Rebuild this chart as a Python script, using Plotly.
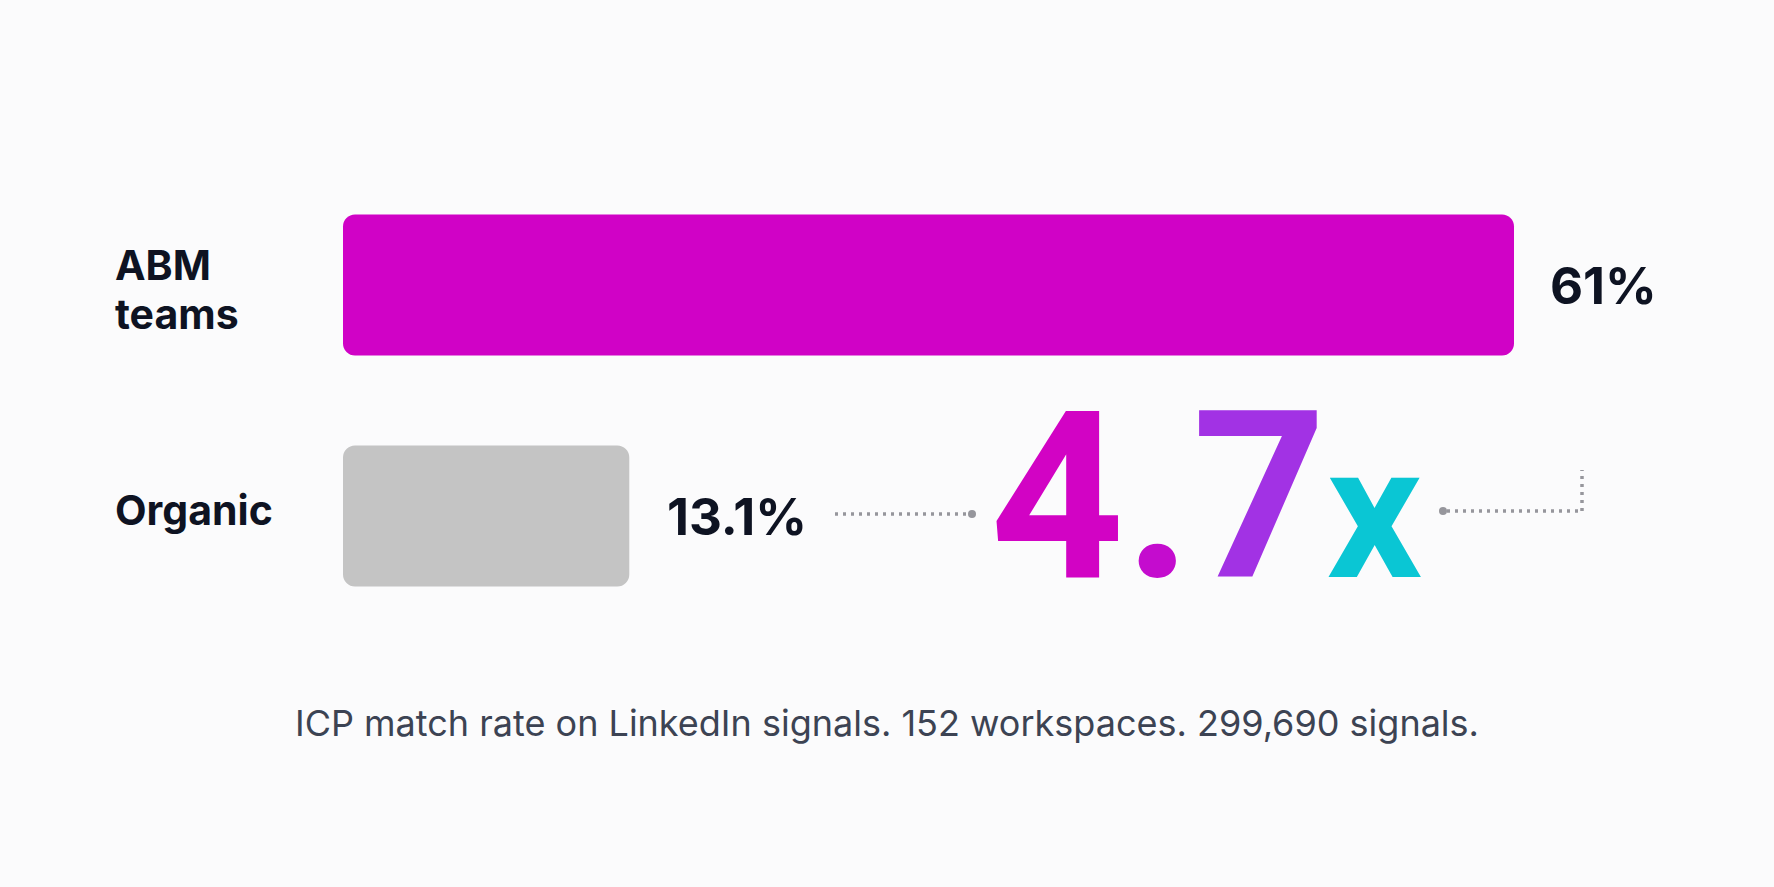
import plotly.graph_objects as go

# ---------------- data ----------------
categories = ["ABM teams", "Organic"]
values = [61.0, 13.1]
value_labels = ["61%", "13.1%"]
caption = "ICP match rate on LinkedIn signals. 152 workspaces. 299,690 signals."

# ---------------- layout / style constants ----------------
W, H = 1774, 887
BG = "#FBFBFC"
INK = "#0E1322"
BAR_COLORS = ["#D002C6", "#C4C4C4"]
BAR_BASE = -2.4            # small stub so short bars stay readable
BAR_LEFT_PX, BAR_RIGHT_PX = 343, 1514
ROW_PX = [285, 516]
BAR_WIDTH = 0.61
LABEL_X_PX = 113
LABEL_FONT = 41
LINE_PITCH = 49
LABEL_SHIFT = [-4, 6]
VALUE_FONT = 51
VALUE_GAP = [34, 36]

scale = (BAR_RIGHT_PX - BAR_LEFT_PX) / (max(values) - BAR_BASE)
x_lo = BAR_BASE - BAR_LEFT_PX / scale
x_hi = x_lo + W / scale
pitch = ROW_PX[1] - ROW_PX[0]
y_top = -ROW_PX[0] / pitch
y_bot = y_top + H / pitch


def px(x):
    return x / W


def py(y):
    return 1 - y / H


fig = go.Figure()
fig.add_trace(go.Bar(
    y=categories,
    x=[v - BAR_BASE for v in values],
    base=BAR_BASE,
    orientation="h",
    width=BAR_WIDTH,
    marker=dict(color=BAR_COLORS, line=dict(width=0)),
    hoverinfo="skip",
    showlegend=False,
))

annotations = []
# category labels (one annotation per line for tight line spacing)
for cat, shift in zip(categories, LABEL_SHIFT):
    words = cat.split(" ")
    n = len(words)
    for i, w in enumerate(words):
        annotations.append(dict(
            x=px(LABEL_X_PX), xref="paper", y=cat, yref="y",
            xanchor="left", yanchor="middle",
            yshift=-((i - (n - 1) / 2) * LINE_PITCH) + shift,
            text=w, showarrow=False,
            font=dict(family="Inter", size=LABEL_FONT, color=INK, weight=700),
        ))

# value labels
for cat, v, lab, gap in zip(categories, values, value_labels, VALUE_GAP):
    annotations.append(dict(
        x=v, xref="x", y=cat, yref="y",
        xanchor="left", yanchor="middle", xshift=gap,
        text=lab, showarrow=False,
        font=dict(family="Inter", size=VALUE_FONT, color=INK, weight=700),
    ))

# big ratio callout
ratio = values[0] / values[1]
ratio_txt = f"{ratio:.1f}"
int_part, dec_part = ratio_txt.split(".")
big = (f"<span style='color:#D203C4'>{int_part}</span>"
       f"<span style='color:#C40CCE'>.</span>"
       f"<span style='color:#A232E4'>{dec_part}</span>"
       f"<span style='color:#0AC6D4;font-size:188px'>x</span>")
annotations.append(dict(
    x=px(1206), xref="paper", y=py(497), yref="paper",
    xanchor="center", yanchor="middle",
    text=big, showarrow=False,
    font=dict(family="Roboto", size=234, weight=700),
))

# caption
annotations.append(dict(
    x=0.5, xref="paper", y=py(723), yref="paper",
    xanchor="center", yanchor="middle",
    text=caption, showarrow=False,
    font=dict(family="Inter", size=36, color="#3C4353"),
))

DOT = dict(color="#96969C", width=3.5, dash="3px,5px")
shapes = [
    dict(type="line", xref="paper", yref="paper",
         x0=px(835), x1=px(969), y0=py(514), y1=py(514), line=DOT),
    dict(type="circle", xref="paper", yref="paper",
         x0=px(968), x1=px(976), y0=py(510), y1=py(518),
         fillcolor="#96969C", line=dict(width=0)),
    dict(type="line", xref="paper", yref="paper",
         x0=px(1447), x1=px(1582), y0=py(511), y1=py(511), line=DOT),
    dict(type="line", xref="paper", yref="paper",
         x0=px(1582), x1=px(1582), y0=py(511), y1=py(470), line=DOT),
    dict(type="circle", xref="paper", yref="paper",
         x0=px(1439), x1=px(1447), y0=py(507), y1=py(515),
         fillcolor="#96969C", line=dict(width=0)),
]

fig.update_layout(
    width=W, height=H,
    margin=dict(l=0, r=0, t=0, b=0),
    paper_bgcolor=BG, plot_bgcolor=BG,
    barcornerradius=12,
    xaxis=dict(range=[x_lo, x_hi], visible=False, fixedrange=True),
    yaxis=dict(type="category", categoryorder="array", categoryarray=categories,
               range=[y_bot, y_top], visible=False, fixedrange=True),
    annotations=annotations,
    shapes=shapes,
    showlegend=False,
)

fig.write_html("out.html")
